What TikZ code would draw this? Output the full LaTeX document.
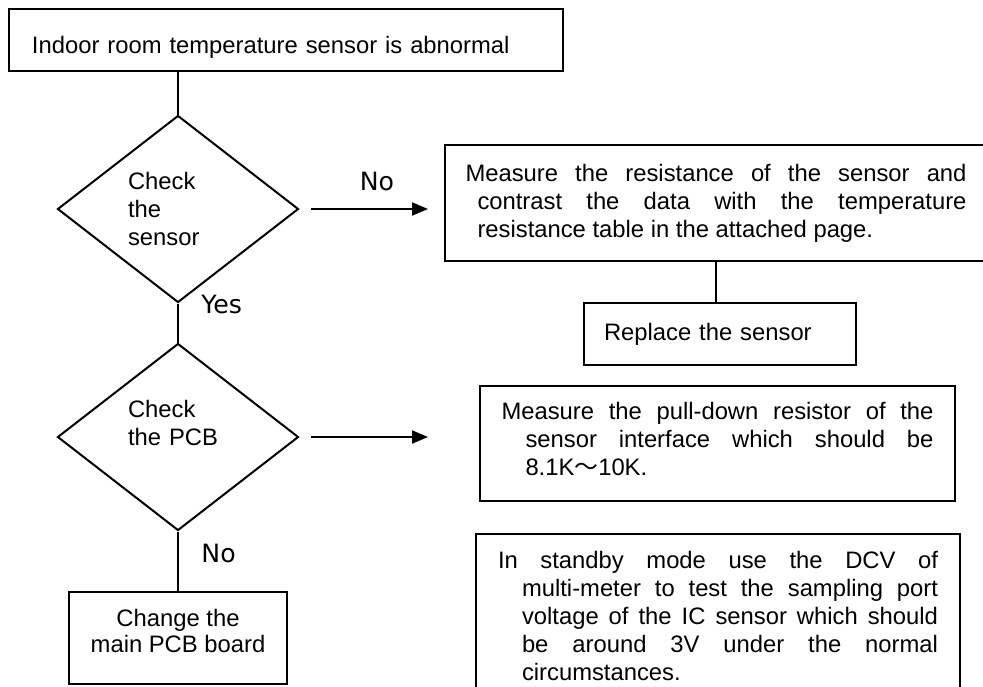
\documentclass[tikz,border=0pt]{standalone}
\usepackage{fontspec}
\setmainfont{Liberation Sans}
\newfontfamily\dejavu{DejaVu Sans}
\newfontfamily\cjk{Noto Sans CJK SC}
\usetikzlibrary{shapes.geometric,arrows.meta}
\hyphenpenalty=10000
\exhyphenpenalty=10000
\tolerance=10000
\begin{document}
\begin{tikzpicture}[x=0.5pt,y=-0.5pt,
	box/.style={draw,line width=1pt,font=\fontsize{11.9pt}{14pt}\selectfont},
	choice/.style={draw,diamond,line width=1pt,minimum width=120.5pt,minimum height=93.5pt,inner sep=0pt,text width=50pt,align=left,font=\fontsize{11.9pt}{14pt}\selectfont},
	answer/.style={inner sep=0pt,font=\dejavu\fontsize{12.6pt}{14pt}\selectfont},
	link/.style={line width=1pt},
	arrow/.style={line width=1pt,-{Triangle[length=8pt,width=6.5pt]}}]
	\clip (0,0) rectangle (983,686);
	\node[box,minimum width=277pt,minimum height=31pt,text width=254pt,align=left,text height=13pt,text depth=0pt] (start) at (286,40) {Indoor room temperature sensor is abnormal};
	
	\node[choice] (d1) at (178,209) {Check\\the\\sensor};
	\node[choice] (d2) at (178,437) {Check\\the PCB\\\mbox{}};
	\node[box,minimum width=109pt,minimum height=46pt,align=center,font=\fontsize{11.9pt}{13pt}\selectfont,text depth=7pt] (pcb) at (178,638) {Change the\\main PCB board};
	
	\node[box,minimum width=271pt,minimum height=58pt,text width=250.5pt,align=justify] (m1) at (716,203) {\hangindent=6pt\hangafter=1 Measure the resistance of the sensor and\linebreak contrast the data with the temperature\linebreak resistance table in the attached page.\par};
	\node[box,minimum width=136pt,minimum height=31pt,text width=116pt,align=left] (rep) at (720,334) {Replace the sensor};
	\node[box,minimum width=237.5pt,minimum height=57.5pt,text width=216pt,align=justify,text depth=33pt] (m2) at (717.5,443.5) {\hangindent=12pt\hangafter=1 Measure the pull-down resistor of the\linebreak sensor interface which should be\linebreak 8.1K{\cjk ～}10K.\par};
	\node[box,minimum width=242pt,minimum height=82pt,text width=220pt,align=justify] (m3) at (718,616) {\hangindent=12pt\hangafter=1 In standby mode use the DCV of\linebreak multi-meter to test the sampling port\linebreak voltage of the IC sensor which should\linebreak be around 3V under the normal\linebreak circumstances.\par};
	
	\node[answer,anchor=base] (no1) at (377,190) {No};
	\node[answer,anchor=base west] (yes) at (201,313) {Yes};
	\node[answer,anchor=base west] (no2) at (201,562) {No};
	
	\draw[link] (start.south -| d1.north) -- (d1.north);
	\draw[link] (d1.south) -- (d2.north);
	\draw[link] (d2.south) -- (pcb.north);
	\draw[link] (m1.south) -- (m1.south |- rep.north);
	\draw[arrow,shorten <=5.5pt,shorten >=8pt] (d1.east) -- (d1.east -| m1.west);
	\draw[arrow,shorten <=5.5pt,shorten >=25.5pt] (d2.east) -- (d2.east -| m2.west);
\end{tikzpicture}
\end{document}
